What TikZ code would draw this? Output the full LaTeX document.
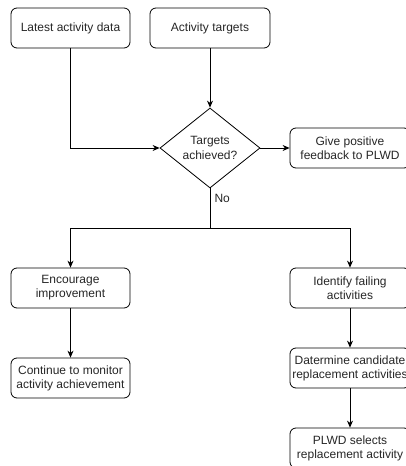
\documentclass[tikz,border=0pt]{standalone}
\usepackage{fontspec}
\setmainfont{Liberation Sans}
\usetikzlibrary{shapes.geometric,arrows.meta}
\begin{document}
\begin{tikzpicture}[x=1pt,y=1pt,
  box/.style={draw, rounded corners=6pt, minimum width=120pt, minimum height=40pt,
    inner xsep=0pt, inner ysep=2pt, align=center, font=\fontsize{12}{14}\selectfont, text=black!85, line width=0.8pt},
  dec/.style={draw, diamond, shape aspect=1.25, minimum width=100pt, minimum height=80pt,
    inner sep=0pt, align=center, font=\fontsize{12}{15}\selectfont, text=black!85, line width=0.8pt},
  arr/.style={-{Stealth[length=7pt,width=6pt]}, line width=0.8pt},
  ln/.style={line width=0.8pt}]
\clip (0,0) rectangle (406,-466);
\node[box, minimum width=119pt] (lad) at (70.5,-28) {Latest activity data};
\node[box] (at) at (210,-28) {Activity targets};
\node[dec] (dec) at (210,-148) {Targets\\achieved?};
\node[box] (pos) at (350,-148) {Give positive\\feedback to PLWD};
\node[box, minimum width=119pt] (enc) at (70.5,-288) {Encourage\\improvement};
\node[box] (idf) at (350,-288) {Identify failing\\activities};
\node[box, minimum width=119pt] (cont) at (70.5,-378) {Continue to monitor\\activity achievement};
\node[box] (dat) at (350,-368) {Datermine candidate\\replacement activities};
\node[box] (sel) at (350,-448) {PLWD selects\\replacement activity};
\coordinate (split) at (210,-228);
\node[font=\fontsize{12}{14}\selectfont, text=black!85, anchor=west] (no) at (211,-198) {No};
\draw[arr] (lad.south) |- (dec.west);
\draw[arr] (at.south) -- (dec.north);
\draw[arr] (dec.east) -- (pos.west);
\draw[ln] (dec.south) -- (split);
\draw[arr] (split) -| (enc.north);
\draw[arr] (split) -| (idf.north);
\draw[arr] (enc.south) -- (cont.north);
\draw[arr] (idf.south) -- (dat.north);
\draw[arr] (dat.south) -- (sel.north);
\end{tikzpicture}
\end{document}
